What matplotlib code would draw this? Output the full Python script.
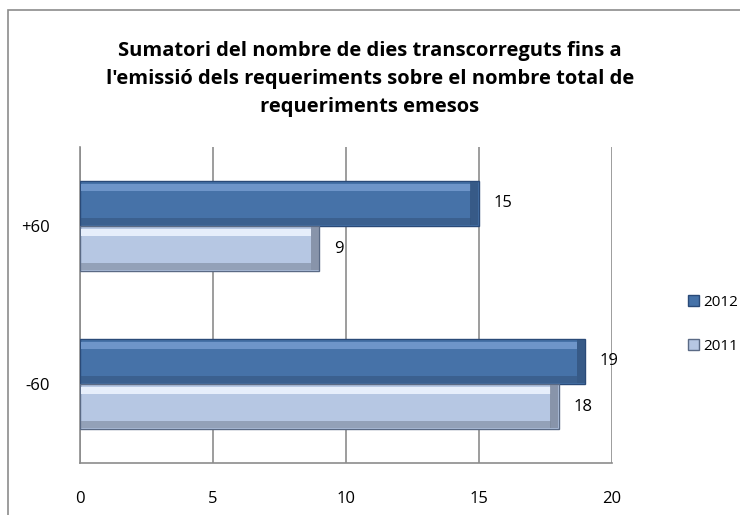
import matplotlib
matplotlib.use("Agg")
import matplotlib.pyplot as plt
from matplotlib.patches import Rectangle
import numpy as np

categories = ["-60", "+60"]
series_names = ["2012", "2011"]
values_2012 = [19, 15]
values_2011 = [18, 9]
xticks = [0, 5, 10, 15, 20]
title = ("Sumatori del nombre de dies transcorreguts fins a\n"
         "l'emissió dels requeriments sobre el nombre total de\n"
         "requeriments emesos")

plt.rcParams['font.family'] = ['Open Sans', 'DejaVu Sans']

fig = plt.figure(figsize=(7.4, 5.15), dpi=100)
# chart border
fig.patches.append(Rectangle((8/740, -0.05), 1.0, (515-10)/515 + 0.05, transform=fig.transFigure,
                             fill=False, edgecolor='#8c8c8c', linewidth=1.2))

ax = fig.add_axes([80/740, (515-463)/515, (612-80)/740, (463-147)/515])
y = np.arange(len(categories))
h = 0.285
c2012 = '#4672a8'
c2011 = '#b6c7e3'
b1 = ax.barh(y + h/2, values_2012, height=h, color=c2012, edgecolor='#2a4a78', linewidth=1.0, label=series_names[0], zorder=3)
b2 = ax.barh(y - h/2, values_2011, height=h, color=c2011, edgecolor='#5a6a85', linewidth=1.0, label=series_names[1], zorder=3)

# bevel shading: light top band, dark bottom band, dark right end
for bars, hl, dk in ((b1, '#6e95c9', '#34557f'), (b2, '#e6eefb', '#7d889c')):
    for r in bars:
        x0, y0 = r.get_x(), r.get_y()
        w, hh = r.get_width(), r.get_height()
        ax.barh(y0 + hh*0.86, w - 0.35, height=hh*0.16, left=x0 + 0.05, color=hl, linewidth=0, zorder=4)
        ax.barh(y0 + hh*0.10, w - 0.35, height=hh*0.14, left=x0 + 0.05, color=dk, alpha=0.6, linewidth=0, zorder=4)
        ax.barh(y0 + hh*0.5, 0.3, height=hh*0.95, left=x0 + w - 0.33, color=dk, alpha=0.8, linewidth=0, zorder=4)

for vals, off in ((values_2012, h/2), (values_2011, -h/2)):
    for yi, v in zip(y, vals):
        ax.text(v + 0.55, yi + off, str(v), va='center', ha='left', fontsize=12, zorder=5)

ax.set_xlim(0, 20)
ax.set_ylim(-0.5, 1.5)
ax.set_xticks(xticks)
ax.set_xticklabels([str(t) for t in xticks], fontsize=12)
ax.set_yticks(y)
ax.set_yticklabels(categories, fontsize=12)
ax.tick_params(length=0, pad=20)
ax.tick_params(axis='y', pad=22)
ax.grid(axis='x', color='#8c8c8c', linewidth=1.2, zorder=0)
for s in ('top', 'right'):
    ax.spines[s].set_visible(False)
for s in ('left', 'bottom'):
    ax.spines[s].set_color('#8c8c8c')
    ax.spines[s].set_linewidth(1.2)

fig.text(370/740, 1 - 79/515, title, ha='center', va='center', fontsize=14.5, fontweight='bold',
         linespacing=1.55)

leg = fig.legend(handles=[b1, b2], labels=series_names, loc='upper left',
                 bbox_to_anchor=(688/740, 1 - 295/515), frameon=False,
                 prop={'size': 11}, handlelength=0.75, handleheight=0.75,
                 handletextpad=0.25, labelspacing=1.9, borderpad=0, borderaxespad=0)

fig.savefig("out.png", dpi=100)
